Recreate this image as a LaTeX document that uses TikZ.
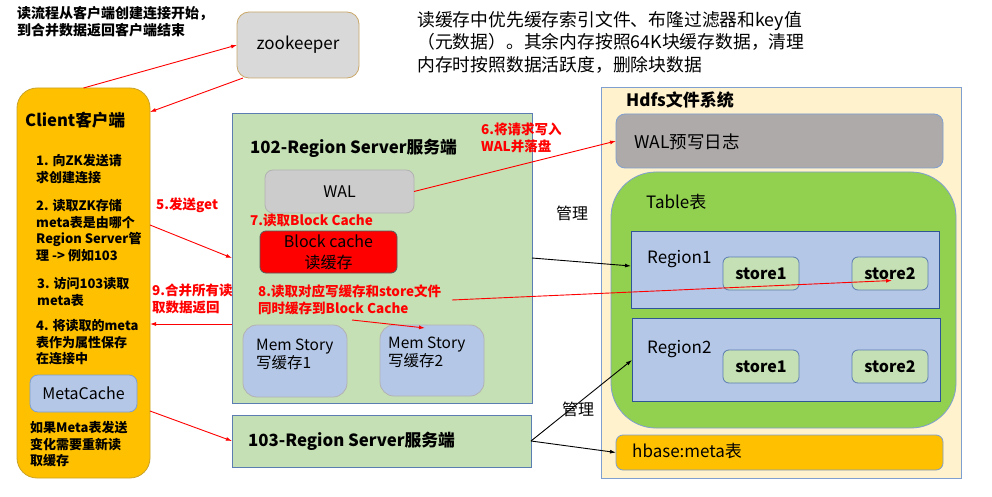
\documentclass[tikz,border=0pt]{standalone}
\usepackage{fontspec}
\setmainfont{Noto Sans CJK SC}
\usetikzlibrary{arrows.meta}

\definecolor{clientorange}{HTML}{FFC000}
\definecolor{clientedge}{HTML}{C9A227}
\definecolor{servergreen}{HTML}{C5E0B4}
\definecolor{serveredge}{HTML}{5B7DB1}
\definecolor{cacheblue}{HTML}{B4C7E7}
\definecolor{regionedge}{HTML}{2F5597}
\definecolor{hdfsyellow}{HTML}{FFF2CC}
\definecolor{hdfsedge}{HTML}{7F9FD0}
\definecolor{tablegreen}{HTML}{92D050}
\definecolor{walgray}{HTML}{AEAAAA}
\definecolor{zkgray}{HTML}{D9D9D9}
\definecolor{zkedge}{HTML}{C9A86A}
\definecolor{readred}{HTML}{FF0000}

\newcommand{\fntitem}{\fontsize{13}{16.7}\selectfont}
\newcommand{\fntred}{\fontsize{13.5}{17}\selectfont\bfseries}
\newcommand{\fntbox}{\fontsize{16}{21}\selectfont}
\newcommand{\fntbig}{\fontsize{17}{21}\selectfont}
\newcommand{\fnthead}{\fontsize{16.8}{20}\selectfont\bfseries}

\tikzset{
  box/.style={anchor=north west, inner sep=0pt, outer sep=0pt, line width=0.8pt},
  txt/.style={anchor=north west, inner sep=0pt, align=left},
  redtxt/.style={txt, text=readred, font=\fntred},
  redarrow/.style={draw=readred, line width=0.9pt, -{Latex[length=6pt,width=4pt]}},
  blackarrow/.style={draw=black, line width=0.9pt, -{Latex[length=6pt,width=4pt]}},
}

\begin{document}
\begin{tikzpicture}[x=1pt, y=-1pt]
    \useasboundingbox (0,0) rectangle (992,497);
    \fill[white] (0,0) rectangle (992,497);

    % client side
    \node[txt, font=\fontsize{14}{17}\selectfont\bfseries] (title) at (17,6) {读流程从客户端创建连接开始，\\到合并数据返回客户端结束};
    \node[box, draw=zkedge, fill=zkgray, rounded corners=12pt, minimum width=122pt, minimum height=66pt, font=\fontsize{17}{20}\selectfont] (zk) at (237,12) {zookeeper};
    \node[box, draw=clientedge, fill=clientorange, rounded corners=20pt, minimum width=133pt, minimum height=390pt] (client) at (17,88) {};
    \node[txt, font=\fontsize{16.6}{20}\selectfont\bfseries] (clienthead) at (25,112) {Client客户端};
    \node[txt, font=\fntitem\bfseries] (step1) at (36,154) {1. 向ZK发送请\\求创建连接};
    \node[txt, font=\fntitem\bfseries] (step2) at (36,199) {2. 读取ZK存储\\meta表是由哪个\\Region Server管\\理 -> 例如103};
    \node[txt, font=\fntitem\bfseries] (step3) at (37,277) {3. 访问103读取\\meta表};
    \node[txt, font=\fntitem\bfseries] (step4) at (36,319) {4. 将读取的meta\\表作为属性保存\\在连接中};
    \node[box, draw=hdfsedge, fill=cacheblue, rounded corners=8pt, minimum width=107pt, minimum height=37pt, font=\fntbox] (metacache) at (30,375) {MetaCache};
    \node[txt, font=\fntitem\bfseries] (reload) at (30,421) {如果Meta表发送\\变化需要重新读\\取缓存};

    % region servers
    \node[box, draw=serveredge, fill=servergreen, minimum width=300pt, minimum height=290pt] (rs102) at (232,113) {};
    \node[txt, font=\fnthead] (rs102head) at (250,139) {102-Region Server服务端};
    \node[box, draw=gray!60, fill=gray!40, rounded corners=8pt, minimum width=149pt, minimum height=43pt, font=\fntbox] (wal) at (265,170) {WAL};
    \node[redtxt] (step7) at (250,214) {7.读取Block Cache};
    \node[box, draw=gray!70!black, fill=readred, rounded corners=6pt, minimum width=137pt, minimum height=42pt, align=center, font=\fntbox] (blockcache) at (260,231) {Block cache\\读缓存};
    \node[redtxt] (step8) at (258,285) {8.读取对应写缓存和store文件\\同时缓存到Block Cache};
    \node[box, draw=gray!60, fill=cacheblue, rounded corners=14pt, minimum width=104pt, minimum height=72pt] (mem1) at (243,325) {};
    \node[txt, font=\fontsize{15.5}{18}\selectfont] (mem1txt) at (256,339) {Mem Story\\写缓存1};
    \node[box, draw=gray!60, fill=cacheblue, rounded corners=14pt, minimum width=104pt, minimum height=71pt] (mem2) at (380,325) {};
    \node[txt, font=\fontsize{15.5}{18}\selectfont] (mem2txt) at (388,337) {Mem Story\\写缓存2};
    \node[box, draw=serveredge, fill=servergreen, minimum width=299pt, minimum height=52pt] (rs103) at (232,415) {};
    \node[txt, font=\fnthead] (rs103head) at (248,432) {103-Region Server服务端};

    % hdfs
    \node[box, draw=hdfsedge, fill=hdfsyellow, minimum width=360pt, minimum height=391pt] (hdfs) at (601,87) {};
    \node[txt, font=\fontsize{17}{20}\selectfont\bfseries] (hdfshead) at (626,92) {Hdfs文件系统};
    \node[box, draw=hdfsedge, fill=walgray, rounded corners=9pt, minimum width=327pt, minimum height=54pt] (hwal) at (616,114) {};
    \node[txt, font=\fontsize{17.5}{21}\selectfont] (hwaltxt) at (634,134) {WAL预写日志};
    \node[box, draw=hdfsedge, fill=tablegreen, rounded corners=45pt, minimum width=345pt, minimum height=256pt] (table) at (611,172) {};
    \node[txt, font=\fntbig] (tabletxt) at (646,194) {Table表};
    \node[box, draw=regionedge, fill=cacheblue, minimum width=308pt, minimum height=77pt] (region1) at (631,231) {};
    \node[txt, font=\fntbig] (region1txt) at (647,250) {Region1};
    \node[box, draw=serveredge, fill=servergreen, rounded corners=6pt, minimum width=76pt, minimum height=33pt, font=\fntbox\bfseries] (store11) at (723,257) {store1};
    \node[box, draw=serveredge, fill=servergreen, rounded corners=6pt, minimum width=76pt, minimum height=33pt, font=\fntbox\bfseries] (store12) at (852,257) {store2};
    \node[box, draw=regionedge, fill=cacheblue, minimum width=308pt, minimum height=83pt] (region2) at (632,318) {};
    \node[txt, font=\fntbig] (region2txt) at (647,340) {Region2};
    \node[box, draw=serveredge, fill=servergreen, rounded corners=6pt, minimum width=76pt, minimum height=33pt, font=\fntbox\bfseries] (store21) at (723,350) {store1};
    \node[box, draw=serveredge, fill=servergreen, rounded corners=6pt, minimum width=76pt, minimum height=33pt, font=\fntbox\bfseries] (store22) at (852,350) {store2};
    \node[box, draw=hdfsedge, fill=clientorange, rounded corners=7pt, minimum width=327pt, minimum height=35pt] (hmeta) at (616,435) {};
    \node[txt, font=\fntbig] (hmetatxt) at (632,443) {hbase:meta表};

    % notes
    \node[txt, font=\fontsize{17.8}{22.5}\selectfont] (note) at (417,11) {读缓存中优先缓存索引文件、布隆过滤器和key值\\（元数据）。其余内存按照64K块缓存数据，清理\\内存时按照数据活跃度，删除块数据};
    \node[redtxt] (step5) at (156,198) {5.发送get};
    \node[redtxt] (step9) at (152,284) {9.合并所有读\\取数据返回};
    \node[redtxt] (step6) at (481,123) {6.将请求写入\\WAL并落盘};
    \node[txt, font=\fntbox] (manage1) at (556,206) {管理};
    \node[txt, font=\fntbox] (manage2) at (562,402) {管理};

    % connectors
    \coordinate (readstart) at (452,300);
    \coordinate (copystart) at (352,320);
    \draw[redarrow] (client.north) -- (zk.west);
    \draw[redarrow] ([xshift=6pt]zk.south west) -- (client.east |- 0,112);
    \draw[redarrow] (client.east |- 0,225) -- (rs102.west |- 0,258);
    \draw[redarrow] (rs102.west |- 0,324) -- (client.east |- 0,324);
    \draw[redarrow] (client.east |- 0,411) -- (rs103.west);
    \draw[redarrow] (wal.east) -- (hwal.west);
    \draw[blackarrow] (rs102.east |- 0,258) -- (region1.west |- 0,266);
    \draw[redarrow] (readstart) -- ([xshift=2pt,yshift=-7pt]store12.center);
    \draw[redarrow] (copystart) -- ([xshift=-7pt,yshift=-3pt]mem2.north);
    \draw[blackarrow] (rs103.east) -- (region2.west |- 0,360);
    \draw[blackarrow] (rs103.east) -- (hmeta.west);
\end{tikzpicture}
\end{document}
